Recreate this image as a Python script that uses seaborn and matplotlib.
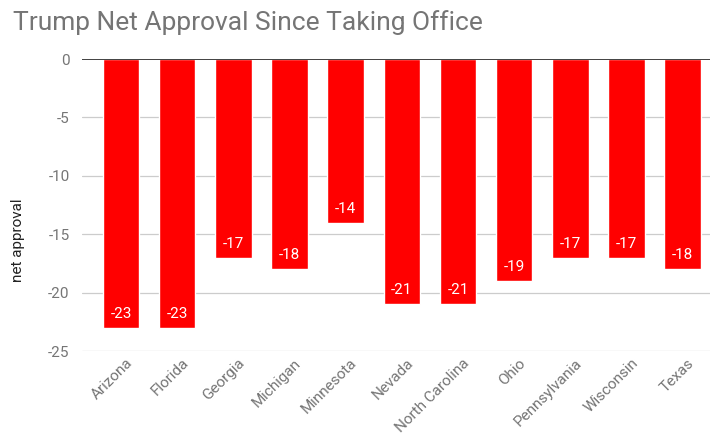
import matplotlib
matplotlib.use("Agg")
import matplotlib.pyplot as plt
import seaborn as sns
import pandas as pd
from matplotlib.transforms import ScaledTranslation

states = ["Arizona", "Florida", "Georgia", "Michigan", "Minnesota", "Nevada",
          "North Carolina", "Ohio", "Pennsylvania", "Wisconsin", "Texas"]
net_approval = [-23, -23, -17, -18, -14, -21, -21, -19, -17, -17, -18]
y_ticks = [0, -5, -10, -15, -20, -25]

df = pd.DataFrame({"state": states, "net": net_approval})

sns.set_style("white")
plt.rcParams["font.family"] = ["Roboto", "DejaVu Sans"]

fig = plt.figure(figsize=(7.1, 4.34), dpi=100)
ax = fig.add_axes([0.1155, 0.1912, 0.8845, 0.6728])

sns.barplot(data=df, x="state", y="net", color="#ff0000", saturation=1,
            width=0.65, ax=ax)

ax.set_ylim(-25, 0)
ax.set_xlim(-0.694, 10.486)
ax.set_yticks(y_ticks)
ax.set_yticklabels([str(t) for t in y_ticks])
for t in y_ticks:
    ax.axhline(t, color="#333333" if t == 0 else "#cccccc",
               lw=1.3 if t == 0 else 0.9, zorder=0 if t != 0 else 3)

for s in ax.spines.values():
    s.set_visible(False)
ax.tick_params(axis="both", length=0, labelsize=11, colors="#757575")
ax.tick_params(axis="y", pad=9)

ax.set_xticks(range(len(states)))
ax.set_xticklabels(states, rotation=45, ha="right", rotation_mode="anchor")
offset = ScaledTranslation(3 / 72, 0, fig.dpi_scale_trans)
for lbl in ax.get_xticklabels():
    lbl.set_transform(lbl.get_transform() + offset)

ax.set_xlabel("")
ax.set_ylabel("net approval", fontsize=11, color="#222222")
ax.yaxis.set_label_coords(-0.09, 0.38)

for c in ax.containers:
    ax.bar_label(c, fmt="%d", padding=-15, color="white", fontsize=11)

fig.text(0.018, 0.93, "Trump Net Approval Since Taking Office",
         fontsize=19, color="#757575", ha="left", va="baseline")

fig.savefig("out.png", dpi=100)
